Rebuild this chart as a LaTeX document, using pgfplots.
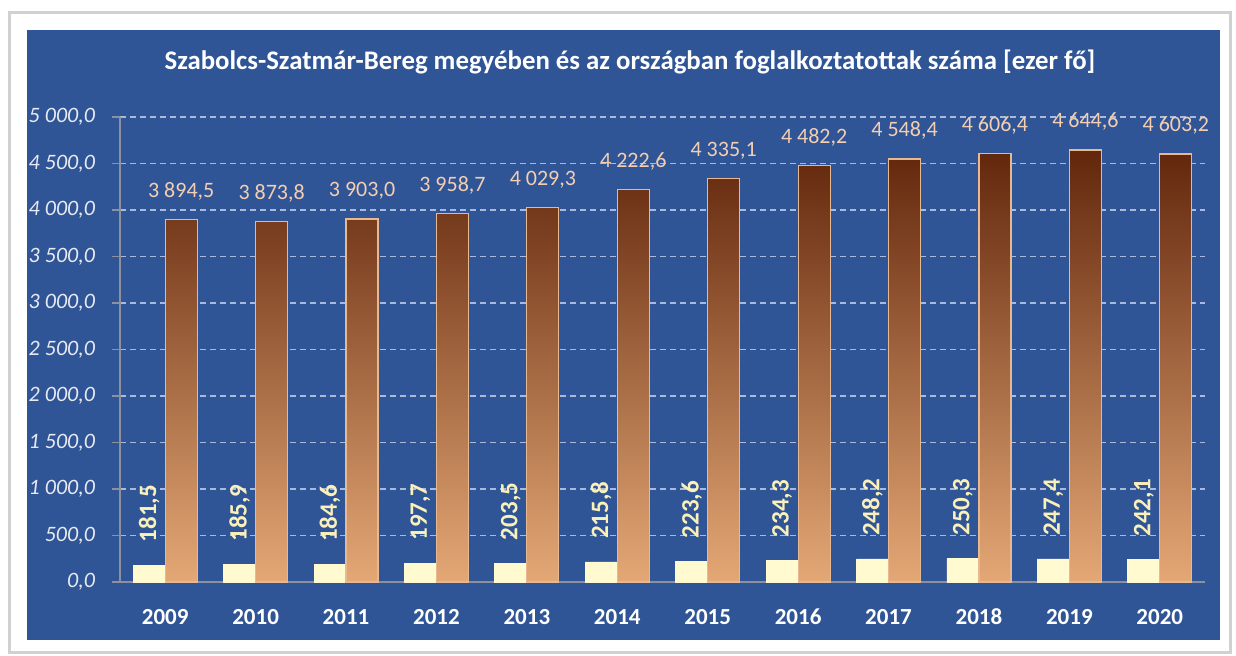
\documentclass[border=0pt]{standalone}
\usepackage{fontspec}
\setmainfont{Carlito}
\usepackage{pgfplots}
\pgfplotsset{compat=1.18}

\definecolor{panelblue}{RGB}{47,85,151}
\definecolor{gridline}{RGB}{170,186,218}
\definecolor{axisgray}{RGB}{140,145,160}
\definecolor{cream}{RGB}{255,250,208}
\definecolor{browntop}{RGB}{98,38,12}
\definecolor{brownmid}{RGB}{178,96,44}
\definecolor{brownbot}{RGB}{228,168,118}
\definecolor{brownedge}{RGB}{232,185,145}
\definecolor{peach}{RGB}{244,206,176}
\definecolor{countylab}{RGB}{250,240,186}
\definecolor{ticktext}{RGB}{232,234,242}

\begin{document}
\begin{tikzpicture}

% background frame, 1 px of the reference = 0.5pt
\begin{scope}[x=0.5pt,y=-0.5pt,shift={(0pt,327.5pt)}]
  \fill[white] (0,0) rectangle (1236,655);
  \draw[black!18,line width=1.5pt] (9,13) rectangle (1230,652);
  \fill[panelblue] (27,30) rectangle (1220,640);
  \node[white,font=\bfseries\fontsize{13.4}{15}\selectfont] at (630,62)
    {Szabolcs-Szatmár-Bereg megyében és az országban foglalkoztatottak száma [ezer fő]};
\end{scope}

\begin{axis}[
    at={(60pt,36.5pt)}, anchor=south west,
    scale only axis, width=542.5pt, height=232.5pt,
    clip=false,
    xmin=-0.5, xmax=11.5, ymin=0, ymax=5000,
    axis x line*=bottom, axis y line*=left,
    axis line style={axisgray,line width=0.8pt},
    tick align=outside,
    major tick length=4pt, minor tick length=4pt,
    xtick={0,...,11},
    xticklabels={2009,2010,2011,2012,2013,2014,2015,2016,2017,2018,2019,2020},
    xtick style={draw=none},
    minor xtick={-0.5,0.5,...,11.5},
    minor x tick style={axisgray,line width=0.8pt},
    xticklabel style={white,font=\bfseries\fontsize{11.5}{13}\selectfont,yshift=-6pt},
    ytick={0,500,...,5000},
    yticklabels={{0,0},{500,0},{1 000,0},{1 500,0},{2 000,0},{2 500,0},{3 000,0},{3 500,0},{4 000,0},{4 500,0},{5 000,0}},
    ytick style={axisgray,line width=0.8pt},
    yticklabel style={ticktext,font=\itshape\fontsize{11}{13}\selectfont,xshift=-5pt},
    ymajorgrids,
    grid style={gridline,dash pattern=on 3pt off 2pt,line width=0.7pt},
    ybar=0pt, bar width=16pt,
  ]
  % county (rotated value labels above the cream bars)
  \addplot[fill=cream,draw=cream,
    point meta=explicit symbolic,
    nodes near coords,
    nodes near coords style={countylab,font=\bfseries\fontsize{12.5}{14}\selectfont,
      yshift=8pt,rotate=90,anchor=west}]
    coordinates {
    (0,181.5) [181,5] (1,185.9) [185,9] (2,184.6) [184,6] (3,197.7) [197,7]
    (4,203.5) [203,5] (5,215.8) [215,8] (6,223.6) [223,6] (7,234.3) [234,3]
    (8,248.2) [248,2] (9,250.3) [250,3] (10,247.4) [247,4] (11,242.1) [242,1]};
  % country
  \addplot[top color=browntop,middle color=brownmid,bottom color=brownbot,
    draw=brownedge,line width=0.6pt,
    point meta=explicit symbolic,
    nodes near coords,
    nodes near coords style={peach,font=\fontsize{11}{13}\selectfont,
      anchor=south,yshift=6pt}]
    coordinates {
    (0,3894.5) [3 894,5] (1,3873.8) [3 873,8] (2,3903.0) [3 903,0] (3,3958.7) [3 958,7]
    (4,4029.3) [4 029,3] (5,4222.6) [4 222,6] (6,4335.1) [4 335,1] (7,4482.2) [4 482,2]
    (8,4548.4) [4 548,4] (9,4606.4) [4 606,4] (10,4644.6) [4 644,6] (11,4603.2) [4 603,2]};
\end{axis}

\end{tikzpicture}
\end{document}
